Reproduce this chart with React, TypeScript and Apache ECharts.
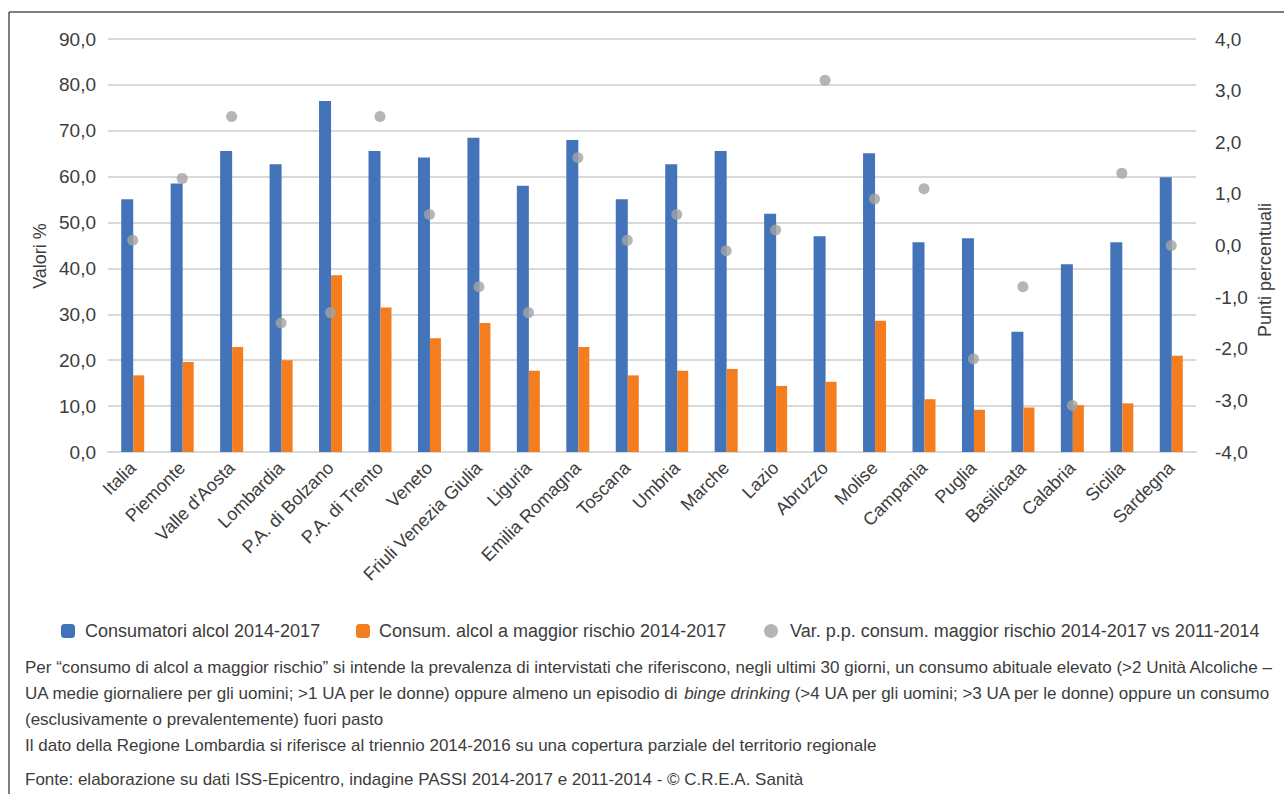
import React, { useEffect, useRef } from "react";
import * as echarts from "echarts";

const categories = [
  "Italia", "Piemonte", "Valle d'Aosta", "Lombardia", "P.A. di Bolzano", "P.A. di Trento",
  "Veneto", "Friuli Venezia Giulia", "Liguria", "Emilia Romagna", "Toscana", "Umbria",
  "Marche", "Lazio", "Abruzzo", "Molise", "Campania", "Puglia", "Basilicata", "Calabria",
  "Sicilia", "Sardegna",
];
const consumatori = [
  55.1, 58.5, 65.6, 62.7, 76.5, 65.6, 64.2, 68.5, 58.0, 68.0, 55.1, 62.7,
  65.6, 51.9, 47.0, 65.1, 45.7, 46.6, 26.2, 40.9, 45.7, 59.9,
];
const rischio = [
  16.7, 19.6, 22.9, 20.0, 38.5, 31.5, 24.8, 28.1, 17.7, 22.9, 16.7, 17.7,
  18.1, 14.4, 15.3, 28.6, 11.5, 9.2, 9.7, 10.2, 10.6, 21.0,
];
const variazione = [
  0.1, 1.3, 2.5, -1.5, -1.3, 2.5, 0.6, -0.8, -1.3, 1.7, 0.1, 0.6,
  -0.1, 0.3, 3.2, 0.9, 1.1, -2.2, -0.8, -3.1, 1.4, 0.0,
];
const seriesNames = [
  "Consumatori alcol 2014-2017",
  "Consum. alcol a maggior rischio 2014-2017",
  "Var. p.p. consum. maggior rischio 2014-2017 vs 2011-2014",
];
const footnotes = [
  "Per “consumo di alcol a maggior rischio” si intende la prevalenza di intervistati che riferiscono, negli ultimi 30 giorni, un consumo abituale elevato (>2 Unità Alcoliche –",
  "UA medie giornaliere per gli uomini; >1 UA per le donne) oppure almeno un episodio di {i|binge drinking} (>4 UA per gli uomini; >3 UA per le donne) oppure un consumo",
  "(esclusivamente o prevalentemente) fuori pasto",
  "Il dato della Regione Lombardia si riferisce al triennio 2014-2016 su una copertura parziale del territorio regionale",
  "Fonte: elaborazione su dati ISS-Epicentro, indagine PASSI 2014-2017 e 2011-2014 - © C.R.E.A. Sanità",
];

const FONT = "'Liberation Sans', Arial, sans-serif";
const TXT = "#3c3c3c";
const fmt = (v: number) => v.toFixed(1).replace(".", ",");

export default function App() {
  const ref = useRef<HTMLDivElement>(null);
  useEffect(() => {
    if (!ref.current) return;
    const chart = echarts.init(ref.current, undefined, { renderer: "svg" });
    const footY = [667, 693, 719, 745, 779];
    const legendText = { fontFamily: FONT, fontSize: 18, color: TXT };
    chart.setOption({
      animation: false,
      backgroundColor: "#ffffff",
      textStyle: { fontFamily: FONT },
      grid: { left: 108, top: 39, width: 1088, height: 413 },
      legend: [
        {
          data: [seriesNames[0]], left: 56, top: 617, itemWidth: 14, itemHeight: 14,
          textStyle: { ...legendText, padding: [0, 0, 0, 5] },
        },
        {
          data: [seriesNames[1]], left: 351, top: 617, itemWidth: 14, itemHeight: 14,
          textStyle: { ...legendText, padding: [0, 0, 0, 4] },
        },
        {
          data: [{ name: seriesNames[2], icon: "circle" }], left: 759, top: 617, itemWidth: 14, itemHeight: 14,
          textStyle: { ...legendText, padding: [0, 0, 0, 7] },
        },
      ],
      xAxis: {
        type: "category",
        data: categories,
        axisLine: { lineStyle: { color: "#d9d9d9", width: 2 } },
        axisTick: { show: false },
        axisLabel: { rotate: 45, fontFamily: FONT, fontSize: 18, color: TXT, margin: 13, interval: 0 },
      },
      yAxis: [
        {
          type: "value", min: 0, max: 90, interval: 10,
          axisLabel: { formatter: fmt, fontFamily: FONT, fontSize: 19, color: TXT, margin: 12 },
          splitLine: { lineStyle: { color: "#d9d9d9", width: 2 } },
          axisLine: { show: false }, axisTick: { show: false },
        },
        {
          type: "value", min: -4, max: 4, interval: 1, position: "right",
          axisLabel: { formatter: fmt, fontFamily: FONT, fontSize: 19, color: TXT, margin: 19 },
          splitLine: { show: false },
          axisLine: { show: false }, axisTick: { show: false },
        },
      ],
      series: [
        {
          name: seriesNames[0], type: "bar", data: consumatori, barWidth: 12, barGap: "0%",
          itemStyle: { color: "#4374BA" },
        },
        {
          name: seriesNames[1], type: "bar", data: rischio, barWidth: 11,
          itemStyle: { color: "#F47D20" },
        },
        {
          name: seriesNames[2], type: "scatter", yAxisIndex: 1, data: variazione, symbolSize: 11,
          itemStyle: { color: "#A3A3A3" }, z: 5,
        },
      ],
      graphic: [
        { type: "line", shape: { x1: 9, y1: 12, x2: 1284, y2: 12 }, style: { stroke: "#555", lineWidth: 1.5 } },
        { type: "line", shape: { x1: 9, y1: 12, x2: 9, y2: 794 }, style: { stroke: "#555", lineWidth: 1.5 } },
        {
          type: "text", x: 40, y: 256, rotation: Math.PI / 2,
          style: { text: "Valori %", fontFamily: FONT, fontSize: 18, fill: TXT, align: "center", verticalAlign: "middle" },
        },
        {
          type: "text", x: 1265, y: 270, rotation: Math.PI / 2,
          style: { text: "Punti percentuali", fontFamily: FONT, fontSize: 18, fill: TXT, align: "center", verticalAlign: "middle" },
        },
        ...footnotes.map((t, i) => ({
          type: "text", x: 25, y: footY[i],
          style: {
            text: t, fontFamily: FONT, fontSize: 17, fill: TXT, align: "left", verticalAlign: "middle",
            rich: { i: { fontStyle: "italic", fontFamily: FONT, fontSize: 17, fill: TXT } },
          },
        })),
      ],
    });
    return () => chart.dispose();
  }, []);
  return <div ref={ref} style={{ position: "absolute", left: 0, top: 0, width: 1284, height: 794 }} />;
}
